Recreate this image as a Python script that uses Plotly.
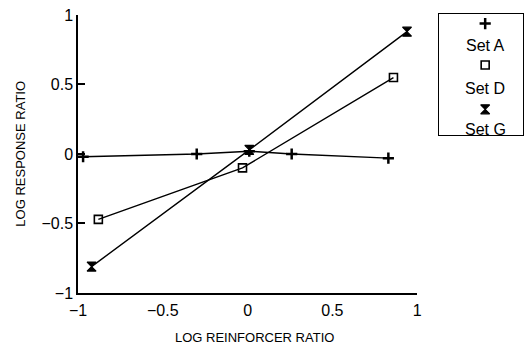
import plotly.graph_objects as go

# Data
set_a_x = [-0.97, -0.30, 0.01, 0.26, 0.83]
set_a_y = [-0.02, 0.00, 0.02, 0.00, -0.03]
set_d_x = [-0.88, -0.03, 0.86]
set_d_y = [-0.47, -0.10, 0.55]
set_g_x = [-0.92, 0.01, 0.94]
set_g_y = [-0.81, 0.03, 0.88]

series_names = ["Set A", "Set D", "Set G"]
symbols = ["cross-thin", "square-open", "hourglass"]
sizes = [8, 8, 9]
mlw = [2.5, 1.6, 1.2]

tick_vals = [-1, -0.5, 0, 0.5, 1]
tick_text = ["\u22121", "\u22120.5", "0", "0.5", "1"]

FONT = "Liberation Sans, Arial, sans-serif"

fig = go.Figure()
series = [(set_a_x, set_a_y), (set_d_x, set_d_y), (set_g_x, set_g_y)]
for (xs, ys), name, sym, sz, lw in zip(series, series_names, symbols, sizes, mlw):
    fig.add_trace(go.Scatter(
        x=xs, y=ys, mode="lines+markers", name=name,
        line=dict(color="black", width=1.4),
        marker=dict(symbol=sym, size=sz, color="black", line=dict(color="black", width=lw)),
        showlegend=False, xaxis="x", yaxis="y"))

# Custom legend (markers stacked above names), drawn in a separate axes
leg_marker_y = [0.921, 0.579, 0.213]
leg_text_y = [0.740, 0.385, 0.044]
for name, sym, sz, lw, my in zip(series_names, symbols, sizes, mlw, leg_marker_y):
    fig.add_trace(go.Scatter(
        x=[0.55], y=[my], mode="markers",
        marker=dict(symbol=sym, size=sz, color="black", line=dict(color="black", width=lw)),
        showlegend=False, xaxis="x2", yaxis="y2", hoverinfo="skip"))
annotations = []
for name, ty in zip(series_names, leg_text_y):
    annotations.append(dict(x=0.55, y=ty, xref="x2", yref="y2", text=name,
                            showarrow=False, font=dict(family=FONT, size=16, color="black"),
                            xanchor="center", yanchor="middle"))

# axis titles (pixel positions converted below)
annotations.append(dict(x=256, y=338, xref="paper", yref="paper", text="LOG REINFORCER RATIO",
                        showarrow=False, font=dict(family=FONT, size=13, color="black"),
                        xanchor="center", yanchor="middle"))
annotations.append(dict(x=20, y=153, xref="paper", yref="paper", text="LOG RESPONSE RATIO",
                        showarrow=False, textangle=-90, font=dict(family=FONT, size=13, color="black"),
                        xanchor="center", yanchor="middle"))

W, H = 532, 355
L, R, T, B = 78, 4, 10, 62
pw, ph = W - L - R, H - T - B

def px_x(p):
    return (p - L) / pw

def px_y(p):
    return (H - B - p) / ph

for a in annotations:
    if a["xref"] == "paper":
        a["x"] = px_x(a["x"])
        a["y"] = px_y(a["y"])

fig.update_layout(
    width=W, height=H,
    margin=dict(l=L, r=R, t=T, b=B),
    paper_bgcolor="white", plot_bgcolor="white",
    annotations=annotations,
    xaxis=dict(domain=[0, px_x(421)], range=[-1, 1], tickvals=tick_vals, ticktext=tick_text,
               showgrid=False, zeroline=False, showline=True, linecolor="black", linewidth=1.5,
               ticks="outside", ticklen=2, tickcolor="white",
               tickfont=dict(family=FONT, size=16, color="black"), anchor="y"),
    yaxis=dict(domain=[0, px_y(13)], range=[-1, 1], tickvals=tick_vals, ticktext=tick_text,
               showgrid=False, zeroline=False, showline=True, linecolor="black", linewidth=1.5,
               ticks="inside", ticklen=7, tickwidth=1.5, tickcolor="black",
               tickfont=dict(family=FONT, size=16, color="black"), anchor="x"),
    xaxis2=dict(domain=[px_x(443), px_x(528)], range=[0, 1], showgrid=False, zeroline=False,
                showticklabels=False, ticks="", showline=True, mirror=True,
                linecolor="black", linewidth=1.3, anchor="y2", fixedrange=True),
    yaxis2=dict(domain=[px_y(134), px_y(12)], range=[0, 1], showgrid=False, zeroline=False,
                showticklabels=False, ticks="", showline=True, mirror=True,
                linecolor="black", linewidth=1.3, anchor="x2", fixedrange=True),
)

fig.write_html("out.html")
